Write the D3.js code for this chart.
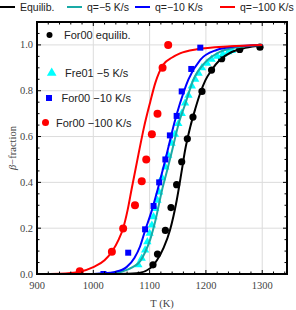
<!DOCTYPE html>
<html>
<head>
<meta charset="utf-8">
<script src="https://cdn.jsdelivr.net/npm/d3@7"></script>
<style>
  body { margin: 0; background: #fff; }
  svg { display: block; }
</style>
</head>
<body>
<script>
// size
var w = 296;
var h = 310;
var margin = {top: 22, right: 9, bottom: 36, left: 37};

// x and y ranges
var xDomain = [900, 1344];
var yDomain = [0, 1.1];
var xTicks = [900, 1000, 1100, 1200, 1300];
var yTicks = [0.0, 0.2, 0.4, 0.6, 0.8, 1.0];

// legend labels
var lineNames = ["Equilib.", "q=\u22125 K/s", "q=\u221210 K/s", "q=\u2212100 K/s"];
var pointNames = ["For00 equilib.", "Fre01 \u22125 K/s", "For00 \u221210 K/s", "For00 \u2212100 K/s"];

// model curves: [T, fraction]
var equilCurve = [[1040,0],[1077,0.003],[1101,0.025],[1113,0.06],[1125,0.115],[1136,0.19],
  [1148,0.32],[1157,0.45],[1163,0.54],[1172,0.64],[1181,0.72],[1190,0.79],[1199,0.845],
  [1210,0.89],[1225,0.935],[1245,0.968],[1270,0.987],[1300,0.997]];
var q5Curve = [[1000,0],[1030,0.002],[1050,0.01],[1070,0.03],[1083,0.055],[1092,0.095],
  [1101,0.15],[1110,0.23],[1122,0.366],[1132,0.46],[1142,0.56],[1152,0.66],[1163,0.74],
  [1178,0.85],[1199,0.925],[1225,0.97],[1250,0.988],[1300,1.0]];
var q10Curve = [[1000,0],[1012,0.002],[1040,0.01],[1059,0.03],[1073,0.07],[1083,0.12],
  [1092,0.19],[1103,0.27],[1114,0.366],[1124,0.46],[1134,0.56],[1144,0.66],[1154,0.745],
  [1169,0.85],[1190,0.935],[1219,0.978],[1250,0.993],[1300,1.0]];
var q100Curve = [[900,0],[940,0.001],[960,0.004],[976,0.01],[1000,0.03],[1020,0.06],
  [1033,0.097],[1045,0.15],[1053,0.2],[1061,0.28],[1068,0.37],[1080,0.52],[1090,0.64],
  [1101,0.75],[1110,0.833],[1124,0.913],[1140,0.945],[1154,0.963],[1184,0.981],
  [1243,0.994],[1300,1.0]];

// measured points: [T, fraction]
var equilPts = [[1106,0.04],[1114,0.087],[1128,0.19],[1138,0.29],[1148,0.39],[1157,0.49],
  [1167,0.59],[1177,0.685],[1193,0.797],[1210,0.89],[1228,0.94],[1260,0.98],[1296,0.99]];
var fre5Pts = [[1080,0.04],[1086,0.068],[1092,0.104],[1096,0.14],[1100,0.177],[1104,0.213],
  [1107,0.25],[1110,0.286],[1114,0.322],[1117,0.358],[1122,0.42],[1128,0.467],[1133,0.518],
  [1139,0.57],[1145,0.61],[1151,0.656],[1157,0.70],[1163,0.746],[1169,0.78],[1175,0.82],
  [1181,0.85],[1187,0.876],[1193,0.90],[1202,0.92],[1210,0.937],[1220,0.95],[1230,0.96],
  [1240,0.97],[1246,0.975]];
var for10Pts = [[1018,0.0],[1062,0.093],[1092,0.195],[1107,0.297],[1117,0.40],[1128,0.50],
  [1136,0.605],[1148,0.69],[1157,0.797],[1174,0.895],[1190,0.988]];
var for100Pts = [[976,0.012],[1033,0.097],[1053,0.199],[1074,0.30],[1086,0.405],[1094,0.50],
  [1104,0.61],[1114,0.70],[1123,0.90],[1133,1.0]];

var svg = d3.select("body")
            .append("svg")
            .attr("width", w)
            .attr("height", h);

var x = d3.scaleLinear().domain(xDomain).range([margin.left, w - margin.right]);
var y = d3.scaleLinear().domain(yDomain).range([h - margin.bottom, margin.top]);

var x0 = x.range()[0], x1 = x.range()[1];
var y0 = y.range()[0], y1 = y.range()[1];

// grid
svg.append("g")
   .selectAll("line.gx")
   .data(xTicks.slice(1))
   .enter()
   .append("line")
   .attr("x1", function(d) { return x(d); })
   .attr("x2", function(d) { return x(d); })
   .attr("y1", y0).attr("y2", y1)
   .attr("stroke", "#dcdcdc").attr("stroke-width", 1);

svg.append("g")
   .selectAll("line.gy")
   .data(yTicks.slice(1))
   .enter()
   .append("line")
   .attr("x1", x0).attr("x2", x1)
   .attr("y1", function(d) { return y(d); })
   .attr("y2", function(d) { return y(d); })
   .attr("stroke", "#dcdcdc").attr("stroke-width", 1);

// curves
var line = d3.line()
             .x(function(d) { return x(d[0]); })
             .y(function(d) { return y(d[1]); })
             .curve(d3.curveMonotoneX);

var clip = svg.append("clipPath").attr("id", "plotclip")
              .append("rect")
              .attr("x", x0).attr("y", y1)
              .attr("width", x1 - x0).attr("height", y0 - y1);

var curves = [
  {data: equilCurve, color: "#000000"},
  {data: q5Curve, color: "#1aaaa6"},
  {data: q10Curve, color: "#0000ff"},
  {data: q100Curve, color: "#ff0000"}
];

var plot = svg.append("g").attr("clip-path", "url(#plotclip)");

// points go under the lines where they overlap in the original? draw points first
plot.selectAll("circle.eq")
    .data(equilPts)
    .enter()
    .append("circle")
    .attr("cx", function(d) { return x(d[0]); })
    .attr("cy", function(d) { return y(d[1]); })
    .attr("r", 3.6)
    .attr("fill", "#000");

plot.selectAll("path.tri")
    .data(fre5Pts)
    .enter()
    .append("path")
    .attr("d", d3.symbol().type(d3.symbolTriangle).size(30))
    .attr("transform", function(d) { return "translate(" + x(d[0]) + "," + y(d[1]) + ")"; })
    .attr("fill", "#00ffff");

plot.selectAll("path.curve")
    .data(curves)
    .enter()
    .append("path")
    .attr("d", function(d) { return line(d.data); })
    .attr("fill", "none")
    .attr("stroke", function(d) { return d.color; })
    .attr("stroke-width", 2);

plot.selectAll("rect.sq")
    .data(for10Pts)
    .enter()
    .append("rect")
    .attr("x", function(d) { return x(d[0]) - 3; })
    .attr("y", function(d) { return y(d[1]) - 3; })
    .attr("width", 6).attr("height", 6)
    .attr("fill", "#0000ff");

plot.selectAll("circle.red")
    .data(for100Pts)
    .enter()
    .append("circle")
    .attr("cx", function(d) { return x(d[0]); })
    .attr("cy", function(d) { return y(d[1]); })
    .attr("r", 4)
    .attr("fill", "#ff0000");

// axes with inside ticks, on all four sides
var xMinor = d3.range(xDomain[0], xDomain[1], 20);
var yMinor = d3.range(0, 1.1, 0.05);

function ticksX(g, yPos, dir) {
  g.selectAll("line.minor").data(xMinor).enter().append("line")
   .attr("x1", function(d) { return x(d); }).attr("x2", function(d) { return x(d); })
   .attr("y1", yPos).attr("y2", function(d) { return yPos + dir * (d % 100 === 0 ? 4 : 2.5); })
   .attr("stroke", "#000").attr("stroke-width", 1);
}
function ticksY(g, xPos, dir) {
  g.selectAll("line.minor").data(yMinor).enter().append("line")
   .attr("y1", function(d) { return y(d); }).attr("y2", function(d) { return y(d); })
   .attr("x1", xPos).attr("x2", function(d, i) { return xPos + dir * (i % 4 === 0 ? 4 : 2.5); })
   .attr("stroke", "#000").attr("stroke-width", 1);
}
ticksX(svg.append("g"), y0, -1);
ticksX(svg.append("g"), y1, 1);
ticksY(svg.append("g"), x0, 1);
ticksY(svg.append("g"), x1, -1);

svg.append("rect")
   .attr("x", x0).attr("y", y1)
   .attr("width", x1 - x0).attr("height", y0 - y1)
   .attr("fill", "none")
   .attr("stroke", "#000")
   .attr("stroke-width", 2);

// tick labels
svg.selectAll("text.xt")
   .data(xTicks)
   .enter()
   .append("text")
   .text(function(d) { return d; })
   .attr("x", function(d) { return x(d); })
   .attr("y", y0 + 15)
   .attr("text-anchor", "middle")
   .attr("font-family", "Liberation Serif, serif")
   .attr("font-size", "10.5px")
   .attr("fill", "#444");

svg.selectAll("text.yt")
   .data(yTicks)
   .enter()
   .append("text")
   .text(function(d) { return d3.format(".1f")(d); })
   .attr("x", x0 - 4)
   .attr("y", function(d) { return y(d) + 3.5; })
   .attr("text-anchor", "end")
   .attr("font-family", "Liberation Serif, serif")
   .attr("font-size", "10.5px")
   .attr("fill", "#444");

// axis titles
svg.append("text")
   .text("T (K)")
   .attr("x", (x0 + x1) / 2)
   .attr("y", 307)
   .attr("text-anchor", "middle")
   .attr("font-family", "Liberation Serif, serif")
   .attr("font-size", "10.5px")
   .attr("fill", "#444");

var yl = svg.append("text")
   .attr("transform", "translate(16," + ((y0 + y1) / 2) + ") rotate(-90)")
   .attr("text-anchor", "middle")
   .attr("font-family", "Liberation Serif, serif")
   .attr("font-size", "10.5px")
   .attr("fill", "#444");
yl.append("tspan").attr("font-style", "italic").text("\u03b2");
yl.append("tspan").text("\u2212fraction");

// top legend (lines)
var lineLegX = [0, 67, 135, 220];
var topLeg = svg.selectAll("g.tl")
   .data(lineNames)
   .enter()
   .append("g")
   .attr("transform", function(d, i) { return "translate(" + lineLegX[i] + ",7)"; });
topLeg.append("line")
   .attr("x1", 0).attr("x2", 15)
   .attr("stroke", function(d, i) { return curves[i].color; })
   .attr("stroke-width", 2);
topLeg.append("text")
   .text(function(d) { return d; })
   .attr("x", 20)
   .attr("y", 3.5)
   .attr("font-family", "Liberation Sans, Arial, sans-serif")
   .attr("font-size", "10.5px")
   .attr("fill", "#222");

// inner legend (points)
var ptLeg = [
  {sx: 49.5, sy: 35, tx: 64},
  {sx: 51.7, sy: 73, tx: 65},
  {sx: 49, sy: 98, tx: 61.5},
  {sx: 45.5, sy: 122.5, tx: 56}
];
var pl = svg.selectAll("g.pl")
   .data(pointNames)
   .enter()
   .append("g");
pl.append("text")
   .text(function(d) { return d; })
   .attr("x", function(d, i) { return ptLeg[i].tx; })
   .attr("y", function(d, i) { return ptLeg[i].sy + 4; })
   .attr("font-family", "Liberation Sans, Arial, sans-serif")
   .attr("font-size", "11px")
   .attr("fill", "#222");

svg.append("circle").attr("cx", ptLeg[0].sx).attr("cy", ptLeg[0].sy).attr("r", 3).attr("fill", "#000");
svg.append("path")
   .attr("d", d3.symbol().type(d3.symbolTriangle).size(40))
   .attr("transform", "translate(" + ptLeg[1].sx + "," + ptLeg[1].sy + ")")
   .attr("fill", "#00ffff");
svg.append("rect").attr("x", ptLeg[2].sx - 3).attr("y", ptLeg[2].sy - 3)
   .attr("width", 6).attr("height", 6).attr("fill", "#0000ff");
svg.append("circle").attr("cx", ptLeg[3].sx).attr("cy", ptLeg[3].sy).attr("r", 3.5).attr("fill", "#ff0000");
</script>
</body>
</html>
